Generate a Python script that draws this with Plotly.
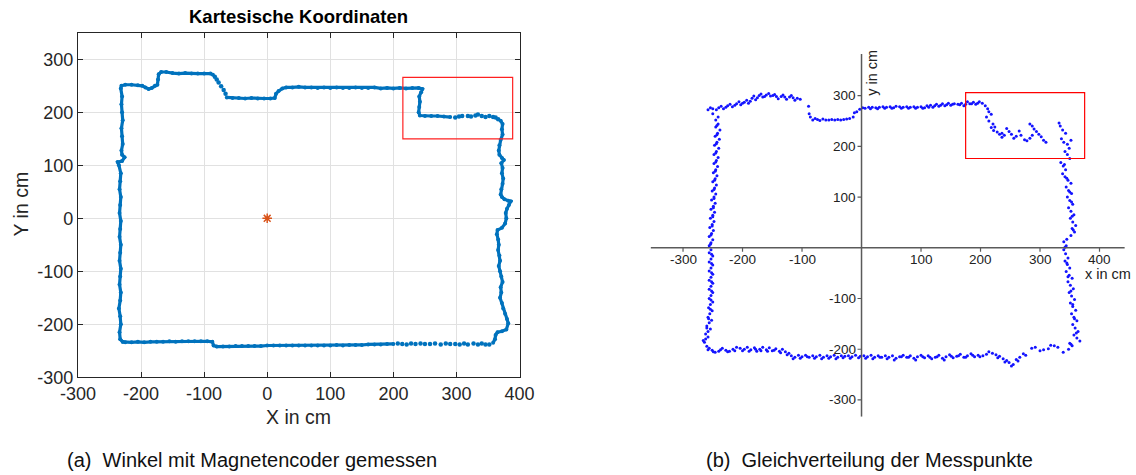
import plotly.graph_objects as go

W, H = 1136, 475

# ---------------- (a) encoder-based outline, cartesian coordinates ----------------
# dense part of the traced outline (None splits the contour where readings thin out)
enc_x = [-229, -233, -234, -232, -233, -235, -233, -232, -234, -233, -232, -234, -233, -232, -234, -233,
         -232, -234, -233, -232, -234, -233, -232, -235, -237, -230, -226, -230, -231, -229, -230, -231,
         -229, -230, -231, -230, -232, -231,
         -225, -215, -205, -198, -193, -188, -183, -178, -174, -173, -172, -168, -160, -150, -140, -130,
         -120, -110, -100, -90, -86, None,
         -64, -55, -45, -35, -25, -15, -5, 5, 12, 14, 18, 24, 30, 40, 50, 60, 70, 80, 90, 100, 110, 120,
         130, 140, 150, 160, 170, 180, 190, 200, 210, 220, 230, 240, 246, 244, 241, 242, 241, 240, 242,
         250, 260, 270, 280, 290, None,
         370, 373, 372, 373, 370, 368, 367, 368, 372, 375, 371, 373, 372, 374, 373, 371, 370, 372, 376,
         382, 386, 383, 380, 378, 379, 377, 372, 365, 364, 366, 367, 366, 368, 369, 367, 369, 371, 373,
         370, 371, 369, 372, 374, 377, 380, 382, 379, 372, 365, 362, 361, 358, None,
         200, 190, 180, 170, 160, 150, 140, 130, 120, 110, 100, 90, 80, 70, 60, 50, 40, 30, 20, 10, 0,
         -10, -20, -30, -40, -50, -60, -70, -80, -85, -87, -95, -105, -115, -125, -135, -145, -155, -165,
         -175, -185, -195, -205, -215, -225, -229]
enc_y = [-233, -228, -215, -200, -185, -170, -155, -140, -125, -110, -95, -80, -65, -50, -35, -20,
         -5, 10, 25, 40, 55, 70, 85, 100, 106, 108, 115, 120, 128, 140, 155, 170,
         185, 200, 215, 230, 245, 250,
         252, 252, 251, 250, 247, 244, 246, 250, 252, 262, 272, 276, 276, 274, 273, 274,
         273, 273, 273, 273, 271, None,
         228, 227, 227, 226, 227, 226, 226, 226, 227, 235, 240, 245, 247, 247, 248, 247, 247, 246, 247,
         246, 247, 246, 246, 247, 246, 246, 247, 245, 246, 245, 246, 245, 246, 246, 244, 238, 230, 220,
         210, 200, 194, 193, 193, 193, 192, 191, None,
         184, 178, 168, 158, 148, 138, 128, 120, 114, 110, 104, 95, 85, 75, 65, 55, 45, 40, 36, 33, 32,
         25, 18, 10, 0, -10, -18, -22, -30, -40, -50, -60, -70, -80, -90, -100, -110, -120, -130, -140,
         -150, -160, -170, -180, -190, -198, -210, -213, -215, -220, -228, -235, None,
         -237, -237, -238, -238, -238, -239, -239, -239, -240, -239, -240, -240, -240, -240, -240, -240,
         -240, -240, -240, -240, -240, -241, -241, -241, -241, -241, -242, -242, -242, -240, -233, -232,
         -232, -232, -232, -232, -233, -232, -233, -233, -233, -234, -233, -234, -234, -233]

# isolated readings along the sparse stretches of the outline
enc_sparse_x = [-83, -80, -77, -73, -69, -66,
                298, 304, 309, 318, 323, 330, 334, 340, 346, 352, 358, 362, 366,
                352, 346, 340, 334, 327, 318, 312, 305, 298, 290, 283, 275, 266, 258, 250, 243, 235,
                228, 221, 214, 207]
enc_sparse_y = [267, 262, 256, 249, 242, 235,
                190, 192, 193, 193, 192, 194, 196, 193, 191, 193, 191, 190, 187,
                -238, -238, -236, -238, -236, -238, -236, -238, -237, -237, -236, -238, -236, -237,
                -237, -236, -237, -236, -238, -237, -236]

origin_x = [0]
origin_y = [0]

ticks_a_x = [-300, -200, -100, 0, 100, 200, 300, 400]
ticks_a_y = [-300, -200, -100, 0, 100, 200, 300]

# highlighted region in both panels
box_a = dict(x0=215, x1=389, y0=150, y1=266)
box_b = dict(x0=175, x1=375, y0=176, y1=306)

# ---------------- (b) evenly distributed measurement points ----------------
pts_b = [
    # upper left edge
    (-258, 272), (-254, 276), (-250, 274), (-240, 276), (-236, 279), (-232, 274), (-225, 280), (-221, 283),
    (-217, 278), (-210, 284), (-206, 288), (-203, 282), (-197, 287), (-193, 291), (-190, 285), (-184, 295),
    (-181, 299), (-178, 292), (-172, 300), (-169, 303), (-166, 297), (-160, 301), (-156, 304), (-153, 299),
    (-146, 302), (-143, 298), (-140, 294), (-132, 301), (-129, 297), (-126, 293), (-118, 300), (-115, 296),
    (-112, 291), (-103, 293),
    (-244, 272), (-228, 277), (-213, 281), (-200, 285), (-187, 289), (-175, 296), (-163, 298), (-149, 300),
    (-135, 298), (-121, 297), (-108, 295),
    # recess and upper middle edge
    (-89, 279), (-88, 264), (-86, 258), (-82, 252), (-78, 255), (-74, 253), (-70, 251), (-65, 254),
    (-60, 252), (-55, 252), (-50, 253), (-45, 252), (-40, 253), (-35, 252), (-30, 253), (-25, 254),
    (-20, 255), (-14, 258), (-12, 266), (-8, 268), (-3, 273), (2, 276), (6, 275), (12, 277), (18, 277),
    (24, 276), (30, 277), (36, 278), (42, 277), (48, 278), (54, 276), (58, 279), (64, 278), (70, 277),
    (76, 278), (82, 277), (88, 278), (94, 277), (100, 278), (106, 276), (110, 280), (116, 281), (120, 277),
    (126, 283), (130, 279), (136, 284), (140, 280), (146, 285), (150, 281), (156, 284), (162, 283),
    (168, 285), (172, 280), (178, 288), (182, 284), (188, 287), (192, 283), (198, 288), (203, 285),
    (15, 274), (27, 274), (39, 275), (51, 275), (67, 275), (79, 275), (91, 275), (103, 275), (113, 277),
    (123, 280), (133, 281), (143, 282), (153, 283), (165, 282), (175, 283), (185, 284), (195, 285),
    # corner region
    (208, 280), (212, 274), (214, 268), (218, 263), (210, 258), (214, 250), (221, 244), (224, 238),
    (218, 237), (222, 231), (228, 228), (232, 224), (236, 226), (240, 222), (236, 218), (244, 235),
    (248, 229), (252, 224), (256, 216), (260, 220), (265, 230), (268, 222), (274, 213), (278, 211),
    (283, 244), (287, 240), (290, 234), (294, 229), (298, 224), (302, 219), (306, 212), (310, 208),
    (283, 216), (287, 222),
    # right edge
    (332, 246), (334, 240), (338, 232), (343, 226), (336, 215), (340, 208), (346, 204), (352, 212),
    (349, 196), (342, 190), (346, 184), (350, 176), (335, 168), (339, 161), (343, 154), (338, 146),
    (342, 140), (347, 133), (352, 127), (344, 120), (348, 113), (353, 107), (346, 100), (350, 93),
    (355, 86), (348, 79), (352, 72), (357, 65), (351, 58), (355, 51), (360, 44), (354, 38), (358, 31),
    (352, 24), (345, 17), (340, 12), (344, 4), (340, -4), (343, -12), (347, -20), (342, -26), (346, -33),
    (350, -40), (344, -47), (349, -54), (354, -60), (347, -67), (351, -74), (356, -81), (349, -88),
    (353, -95), (358, -102), (351, -109), (355, -116), (360, -123), (353, -130), (357, -137), (362, -144),
    (355, -151), (359, -158), (364, -165), (357, -172), (362, -178), (367, -184), (350, -188), (354, -193),
    (348, -200), (339, -206),
    (341, 164), (345, 137), (350, 110), (353, 90), (354, 62), (356, 35), (342, 1), (345, -30), (347, -57),
    (352, -85), (355, -112), (358, -140), (361, -168), (352, -190),
    # lower edge
    (330, -196), (324, -193), (318, -192), (314, -199), (306, -201), (300, -203), (292, -196), (286, -198),
    (276, -212), (272, -209), (266, -216), (260, -220), (252, -233), (248, -226), (244, -222), (238, -219),
    (232, -214), (226, -211), (220, -208), (214, -205), (210, -210), (204, -213), (196, -212), (190, -215),
    (184, -209), (178, -213), (172, -216), (166, -210), (160, -214), (154, -217), (148, -211), (142, -215),
    (136, -218), (130, -212), (124, -216), (118, -219), (112, -213), (106, -217), (100, -212), (94, -215),
    (88, -218), (82, -213), (76, -216), (70, -212), (64, -215), (58, -218), (52, -213), (46, -216),
    (40, -213), (34, -216), (28, -213), (22, -216), (16, -212), (10, -215), (4, -213), (-2, -214),
    (-10, -212), (-16, -215), (-22, -213), (-28, -214), (-34, -213), (-40, -216), (-46, -212), (-52, -215),
    (-58, -213), (-64, -216), (-70, -212), (-76, -215), (-82, -213), (-88, -216), (-94, -212), (-100, -215),
    (-106, -212), (-112, -216), (-118, -213), (-122, -208), (-128, -205), (-133, -200), (-138, -204),
    (-144, -199), (-150, -203), (-155, -197), (-160, -201), (-166, -196), (-171, -200), (-176, -204),
    (-180, -197), (-186, -201), (-192, -196), (-197, -200), (-204, -198), (-210, -196), (-216, -200),
    (-222, -204), (-228, -202), (-234, -198), (-240, -204), (-246, -206), (-251, -202), (-256, -198),
    (-260, -194),
    (199, -215), (187, -212), (175, -216), (163, -213), (151, -214), (139, -221), (127, -215), (115, -216),
    (103, -215), (91, -221), (79, -216), (67, -215), (55, -221), (43, -219), (31, -216), (19, -219),
    (7, -218), (-5, -217), (-19, -218), (-31, -217), (-43, -219), (-55, -218), (-67, -219), (-79, -218),
    (-91, -215), (-103, -218), (-115, -219), (-125, -211), (-136, -207), (-147, -202), (-158, -204),
    (-169, -203), (-178, -200), (-189, -204), (-200, -203), (-213, -203), (-225, -205), (-237, -201),
    (-249, -205), (-258, -201), (229, -217), (241, -225), (255, -230), (263, -223),
    # left edge
    (-266, -183), (-262, -180), (-258, -176), (-262, -170), (-258, -165), (-254, -160), (-260, -154),
    (-256, -148), (-252, -143), (-258, -137), (-255, -130), (-251, -124), (-257, -118), (-254, -112),
    (-250, -107), (-256, -100), (-253, -94), (-250, -88), (-256, -82), (-253, -76), (-250, -70), (-256, -64),
    (-253, -58), (-250, -52), (-256, -46), (-253, -40), (-250, -34), (-256, -28), (-253, -22), (-250, -16),
    (-256, -10), (-253, -4), (-256, 4), (-253, 10), (-250, 16), (-256, 22), (-252, 28), (-249, 34),
    (-255, 40), (-251, 46), (-248, 52), (-254, 58), (-250, 64), (-247, 70), (-253, 76), (-249, 82),
    (-246, 88), (-252, 94), (-248, 100), (-245, 106), (-251, 112), (-247, 118), (-244, 124), (-250, 130),
    (-246, 136), (-243, 142), (-249, 148), (-245, 154), (-242, 160), (-248, 166), (-244, 172), (-241, 178),
    (-248, 184), (-244, 190), (-240, 196), (-247, 202), (-243, 208), (-239, 214), (-246, 220), (-242, 226),
    (-238, 232), (-245, 238), (-241, 244), (-245, 252), (-241, 258), (-250, 264),
    (-264, -186), (-260, -158), (-257, -140), (-254, -121), (-253, -103), (-252, -85), (-252, -67),
    (-252, -49), (-252, -31), (-252, -13), (-254, 7), (-253, 25), (-251, 43), (-250, 61), (-249, 79),
    (-248, 97), (-248, 115), (-247, 133), (-246, 151), (-245, 169), (-245, 187), (-244, 205), (-243, 223),
    (-243, 241),
]
meas_x = [p[0] for p in pts_b]
meas_y = [p[1] for p in pts_b]

ticks_b_x = [-300, -200, -100, 100, 200, 300, 400]
ticks_b_y = [-300, -200, -100, 100, 200, 300]

captions = ["(a)\u00a0 Winkel mit Magnetencoder gemessen", "(b)\u00a0 Gleichverteilung der Messpunkte"]

# ---------------- figure ----------------
MBLUE = "#0072BD"
MORANGE = "#D95319"
AX = "#262626"
FONT = "Liberation Sans, Arial, Helvetica, sans-serif"


def px(x):
    return x / W


def py(y):
    return 1 - y / H


fig = go.Figure()

fig.add_trace(go.Scatter(x=enc_x, y=enc_y, mode="lines+markers", xaxis="x", yaxis="y",
                         line=dict(color=MBLUE, width=3.2), marker=dict(color=MBLUE, size=4),
                         connectgaps=False, showlegend=False, hoverinfo="skip"))
fig.add_trace(go.Scatter(x=enc_sparse_x, y=enc_sparse_y, mode="markers", xaxis="x", yaxis="y",
                         marker=dict(color=MBLUE, size=4.5), showlegend=False, hoverinfo="skip"))
fig.add_trace(go.Scatter(x=origin_x, y=origin_y, mode="markers", xaxis="x", yaxis="y",
                         marker=dict(symbol="asterisk-open", color=MORANGE, size=8,
                                     line=dict(color=MORANGE, width=1.5)),
                         showlegend=False, hoverinfo="skip"))
fig.add_trace(go.Scatter(x=meas_x, y=meas_y, mode="markers", xaxis="x2", yaxis="y2",
                         marker=dict(color="#1414ff", size=3), showlegend=False, hoverinfo="skip"))

shapes = []
annotations = []

# red highlight rectangles
shapes.append(dict(type="rect", xref="x", yref="y", line=dict(color="#ff2020", width=1.2), **box_a))
shapes.append(dict(type="rect", xref="x2", yref="y2", line=dict(color="#ff0000", width=1.2), **box_b))

# axes crossing at the origin in panel (b)
XB = (-354.5, 442.5)
YB = (-333, 382)
shapes.append(dict(type="line", xref="x2", yref="y2", x0=XB[0], x1=XB[1], y0=0, y1=0,
                   line=dict(color="#5a5a5a", width=1.5)))
shapes.append(dict(type="line", xref="x2", yref="y2", x0=0, x1=0, y0=YB[0], y1=YB[1],
                   line=dict(color="#5a5a5a", width=1.5)))
for v in ticks_b_y:
    shapes.append(dict(type="line", xref="x2", yref="y2", xsizemode="pixel", xanchor=0,
                       x0=-4, x1=0, y0=v, y1=v, line=dict(color="#5a5a5a", width=1.2)))
    annotations.append(dict(xref="x2", yref="y2", x=0, y=v, text=str(v), showarrow=False,
                            xanchor="right", yanchor="middle", xshift=-4,
                            font=dict(family=FONT, size=13.5, color="#222")))
for v in ticks_b_x:
    shapes.append(dict(type="line", xref="x2", yref="y2", ysizemode="pixel", yanchor=0,
                       y0=-4, y1=0, x0=v, x1=v, line=dict(color="#5a5a5a", width=1.2)))
    annotations.append(dict(xref="x2", yref="y2", x=v, y=0, text=str(v), showarrow=False,
                            xanchor="center", yanchor="middle", yshift=-12,
                            font=dict(family=FONT, size=13.5, color="#222")))
annotations.append(dict(xref="x2", yref="y2", x=372, y=0, text="x in cm", showarrow=False,
                        xanchor="left", yanchor="middle", yshift=-26,
                        font=dict(family=FONT, size=14.5, color="#222")))
annotations.append(dict(xref="x2", yref="y2", x=0, y=344, text="y in cm", showarrow=False,
                        xanchor="center", yanchor="middle", xshift=11, textangle=-90,
                        font=dict(family=FONT, size=14.5, color="#222")))

# panel (a) title and axis labels
annotations.append(dict(xref="paper", yref="paper", x=px(298.7), y=py(17), text="<b>Kartesische Koordinaten</b>",
                        showarrow=False, xanchor="center", yanchor="middle",
                        font=dict(family=FONT, size=18.5, color="#000")))
annotations.append(dict(xref="paper", yref="paper", x=px(298.7), y=py(417), text="X in cm",
                        showarrow=False, xanchor="center", yanchor="middle",
                        font=dict(family=FONT, size=19.5, color=AX)))
annotations.append(dict(xref="paper", yref="paper", x=px(20.5), y=py(204), text="Y in cm",
                        showarrow=False, xanchor="center", yanchor="middle", textangle=-90,
                        font=dict(family=FONT, size=19.5, color=AX)))

# captions
annotations.append(dict(xref="paper", yref="paper", x=px(252), y=py(460), text=captions[0],
                        showarrow=False, xanchor="center", yanchor="middle",
                        font=dict(family=FONT, size=20, color="#111")))
annotations.append(dict(xref="paper", yref="paper", x=px(869), y=py(460), text=captions[1],
                        showarrow=False, xanchor="center", yanchor="middle",
                        font=dict(family=FONT, size=20, color="#111")))

fig.update_layout(
    template="none",
    width=W, height=H,
    margin=dict(l=0, r=0, t=0, b=0, autoexpand=False),
    paper_bgcolor="white", plot_bgcolor="white",
    font=dict(family=FONT),
    showlegend=False,
    xaxis=dict(domain=[px(77.9), px(519.6)], range=[-300, 400], anchor="y", automargin=False,
               tickmode="array", tickvals=ticks_a_x, ticktext=[str(v) for v in ticks_a_x],
               ticks="inside", ticklen=5, tickwidth=1, tickcolor=AX,
               showline=True, linecolor=AX, linewidth=1, mirror="ticks",
               showgrid=True, gridcolor="#e1e1e1", gridwidth=1, zeroline=False,
               tickfont=dict(family=FONT, size=18, color=AX)),
    yaxis=dict(domain=[py(377.3), py(32.8)], range=[-300, 350], anchor="x", automargin=False,
               tickmode="array", tickvals=ticks_a_y, ticktext=[str(v) for v in ticks_a_y],
               ticks="inside", ticklen=5, tickwidth=1, tickcolor=AX,
               showline=True, linecolor=AX, linewidth=1, mirror="ticks",
               showgrid=True, gridcolor="#e1e1e1", gridwidth=1, zeroline=False,
               tickfont=dict(family=FONT, size=18, color=AX)),
    xaxis2=dict(domain=[px(650.6), px(1124.8)], range=list(XB), anchor="y2", visible=False,
                automargin=False),
    yaxis2=dict(domain=[py(416.7), py(54)], range=list(YB), anchor="x2", visible=False,
                automargin=False),
    shapes=shapes,
    annotations=annotations,
)

fig.write_html("out.html")
